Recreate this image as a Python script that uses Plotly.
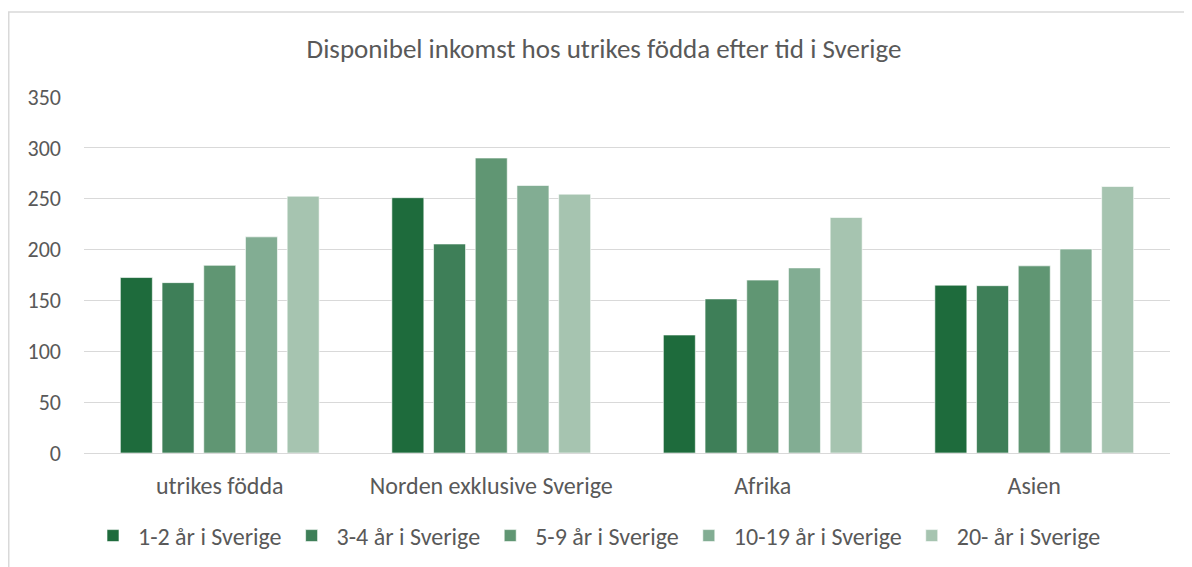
import plotly.graph_objects as go

categories = ["utrikes födda", "Norden exklusive Sverige", "Afrika", "Asien"]
series_names = ["1-2 år i Sverige", "3-4 år i Sverige", "5-9 år i Sverige",
                "10-19 år i Sverige", "20- år i Sverige"]
values_1_2 = [172.5, 251, 116, 165]
values_3_4 = [167.5, 205.5, 151.5, 164.5]
values_5_9 = [184.5, 290, 170, 184]
values_10_19 = [212.5, 263, 182, 200.5]
values_20 = [252.5, 254.5, 231.5, 262]
colors = ["#1e6b3c", "#3e7f58", "#609673", "#82ad93", "#a6c4b0"]

all_values = [values_1_2, values_3_4, values_5_9, values_10_19, values_20]
y_ticks = [0, 50, 100, 150, 200, 250, 300, 350]

FONT = "Carlito, Calibri, 'Open Sans', sans-serif"
TXT = "#595959"

fig = go.Figure()
for name, vals, col in zip(series_names, all_values, colors):
    fig.add_trace(go.Bar(
        x=categories, y=vals, name=name,
        marker=dict(color=col, line=dict(color="rgba(255,255,255,0.6)", width=1)),
    ))

# page has an 8px body margin; work in page pixels and convert
OFF = 8
W, H = 1192 - OFF, 567 - OFF
L, R, T, B = 84 - OFF, 22, 97 - OFF, 114
pw = W - L - R
ph = H - T - B

def px2paper_x(px):  # page px
    return (px - OFF - L) / pw

def px2paper_y(py):  # page px
    return (H - B - (py - OFF)) / ph

fig.update_layout(
    width=W, height=H,
    margin=dict(l=L, r=R, t=T, b=B, autoexpand=False),
    paper_bgcolor="white", plot_bgcolor="white",
    barmode="group", bargap=0.232, bargroupgap=0.233,
    font=dict(family=FONT, color=TXT, size=22),
    title=dict(text="Disponibel inkomst hos utrikes födda efter tid i Sverige",
               x=(604 - OFF) / W, xanchor="center", y=1 - (49 - OFF) / H, yanchor="middle",
               font=dict(size=27, color=TXT, family=FONT)),
    showlegend=True,
    legend=dict(orientation="h", x=px2paper_x(597), xanchor="center",
                y=px2paper_y(536), yanchor="middle",
                font=dict(size=24, color=TXT, family=FONT),
                itemwidth=40, traceorder="normal"),
    xaxis=dict(showgrid=False, showline=True, linecolor="#d9d9d9", linewidth=1,
               automargin=False,
               ticks="", tickfont=dict(size=24, color=TXT), ticklabelstandoff=11),
    yaxis=dict(range=[0, 350], tickvals=y_ticks, showgrid=True, gridcolor="#d9d9d9",
               gridwidth=1, zeroline=False, showline=False, ticks="", automargin=False,
               tickfont=dict(size=22, color=TXT), ticklabelstandoff=22),
    shapes=[dict(type="rect", xref="paper", yref="paper",
                 x0=px2paper_x(8.75), x1=px2paper_x(1210),
                 y0=px2paper_y(580), y1=px2paper_y(12),
                 line=dict(color="#d9d9d9", width=1.5), fillcolor="rgba(0,0,0,0)",
                 layer="below")],
)

fig.write_html("out.html")
